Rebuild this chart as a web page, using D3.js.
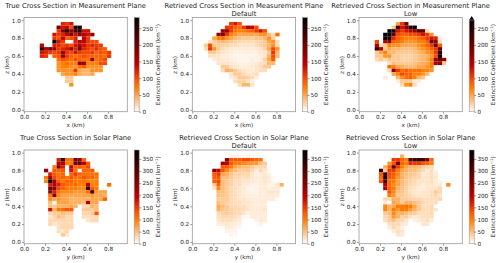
<!DOCTYPE html>
<html><head><meta charset="utf-8">
<script src="https://cdn.jsdelivr.net/npm/d3@7"></script>
<style>html,body{margin:0;background:#fff}svg{display:block}text{font-family:"DejaVu Sans";fill:#262626}</style>
</head><body><svg id="c" width="500" height="263"></svg>
<script>
// Each row: [first column index, values...]; rows run from z=0.96 downward in 0.04 km steps.
const trueMeasurement = [
[9,120,110,130],
[8,200,130,140,100,260,260],
[8,110,190,260,170,230,250,130,130],
[7,130,110,120,140,190,130,170,150,130,170],
[7,110,100,140,90,100,120,0,140,110],
[7,280,130,110,0,0,120,150,140,110,100,100],
[4,140,0,0,120,120,100,110,100,130,150,130,110,120,110,110],
[4,240,150,190,170,110,120,130,170,120,210,120,110,100,120,100,90],
[4,130,120,110,100,110,170,110,100,130,110,100,100,110,90,100,90,110],
[4,120,110,0,90,100,170,110,90,80,90,100,90,90,90,90,80,110],
[8,80,100,90,80,100,90,80,80,170,80,90,100],
[8,60,70,80,70,70,180,170,70,70,70,100,100],
[8,60,70,70,60,60,80,90,60,60,60,60],
[8,60,60,60,60,110,50,40,40,60,60,60],
[9,50,60,60,70,50,40,40,50],
[10,30,30],
[10,30,30],
[11,60]
];
const defaultMeasurement = [
[9,110,130,100],
[8,110,110,90,80,110,150,140,100],
[7,160,170,110,80,70,70,80,90,110,130,100],
[6,170,190,110,70,60,50,50,50,50,50,60,60,40,20,80],
[5,50,70,80,60,50,40,35,30,30,30,35,35,40,60,25],
[4,15,30,35,40,35,30,25,22,20,20,20,22,25,30,50,60,20],
[3,30,100,30,30,25,25,20,20,15,15,15,15,20,25,30,40,60,20],
[3,20,110,60,30,20,15,12,10,10,10,10,10,12,15,25,50,100,60],
[4,30,30,20,15,12,10,8,8,8,8,8,8,12,15,30,110,40],
[4,15,15,15,10,10,8,6,6,6,6,6,8,10,15,40,100,40],
[5,10,15,12,10,8,8,6,6,6,8,8,10,25,50,90],
[6,15,15,15,12,10,8,8,8,10,12,15,20,40,40],
[7,30,30,15,12,10,10,10,12,15,20,30,30],
[7,20,45,40,30,20,15,12,12,15,20,20],
[9,15,30,30,20,15,15,20],
[9,10,15,30,30,25,20,10],
[10,20,25,25,15,10],
[11,20,40,40,15]
];
const lowMeasurement = [
[9,50,110,190],
[8,30,240,130,180,260,285],
[7,285,260,130,110,130,140,170,220,200,20],
[6,285,290,200,100,90,90,100,100,110,130,110,60],
[6,290,260,120,90,80,70,70,70,80,90,110,130,120,10],
[4,100,0,150,180,90,80,70,60,60,60,70,70,90,200,170,20],
[4,150,20,30,70,60,60,50,50,50,50,60,70,90,110,200,90],
[4,250,150,30,50,40,40,35,35,35,40,50,60,70,90,110,200],
[4,30,50,70,40,40,30,30,30,30,35,40,45,60,70,110,250],
[4,30,30,60,60,30,30,25,25,25,30,35,40,45,60,100,270],
[4,20,30,20,35,30,30,25,25,25,30,35,40,50,70,170,200,170],
[7,20,35,30,30,30,30,35,40,45,50,70,150,170,30],
[7,80,70,50,45,40,40,40,50,50,60,70],
[7,20,170,110,80,90,80,80,80,70,70,60],
[8,50,70,100,90,90,70,70,60,40],
[6,10,0,0,40,60,80,90,70,40,30],
[9,10,30,30,30,10,10],
[8,2,0,20,60,70,20]
];
const trueSolar = [
[0],
[8,170,340,110,110,280,240,120],
[8,200,200,100,100,270,280,200,130],
[7,100,250,170,0,190,120,130,110,140],
[5,230,0,130,120,130,0,180,110,0,120,110,130],
[6,170,130,110,120,0,120,150,120,110,110,110,110],
[5,100,220,140,110,120,100,130,110,110,130,110,120,100],
[5,90,380,220,130,100,120,120,100,100,110,100,90,100],
[6,170,200,170,130,110,110,120,100,100,200,100,100,0,0,110],
[6,260,250,140,120,100,100,100,90,90,330,130,100],
[6,240,170,110,90,90,90,80,80,80,110,320,80,70,70],
[6,100,270,90,70,70,70,70,70,70,70,80,70,70,60],
[6,90,70,80,70,70,60,60,60,60,60,70,70,70,120],
[6,50,0,70,70,70,60,60,60,50,210,70,70],
[6,50,40,60,60,60,70,60,0,30,30,60,50],
[6,180,60,100,110,130,130,0,0,40,40,40,50],
[6,30,40,40,50,40,40,0,0,30,30,40,130],
[6,20,30,50,40,30,30,0,0,25,25,25,30],
[6,30,30,30,30,30,30,0,0,0,20,30,30],
[6,30,20,25,30,30,30],
[8,25,30,30,30],
[8,25,20,30],
[9,40,20]
];
const defaultSolar = [
[9,8,10,8,5,10,5],
[8,250,130,130,130,140,140,130,120,110],
[7,220,200,130,100,100,90,80,80,80,50,40],
[7,130,130,100,70,60,50,50,40,30,30,30],
[5,250,190,130,90,60,50,40,40,40,30,15,30,20,5],
[5,130,150,70,60,45,35,35,30,30,20,10,15,20,10],
[5,120,130,50,50,40,30,30,25,25,20,15,15,20,15],
[5,120,140,50,40,35,25,25,20,20,15,15,15,20,15,5],
[5,40,120,50,40,35,25,25,15,15,10,10,15,15,10,10,20,60],
[5,20,90,50,40,30,25,20,15,10,8,10,15,15,10,15,15],
[6,50,50,40,30,25,20,15,12,10,10,15,15,20,20,20],
[6,50,45,40,30,25,20,15,12,12,12,15,15,15,15,15],
[6,40,40,40,30,25,20,20,15,15,15,15,15,15,15],
[6,50,40,35,30,25,25,20,20,15,15,15,15],
[6,65,50,40,30,30,25,25,20,15,15,15,15],
[6,60,45,40,35,30,30,25,20,15,15,15,20],
[6,30,35,40,35,30,30,20,10,15,15,15,15],
[6,25,30,30,30,25,20,5,5,15,15,15,15],
[6,20,25,25,25,20,15,0,0,0,10,15,15],
[6,15,15,20,15,15,10,0,0,0,3,10],
[8,15,15,10,5],
[8,8,8,8],
[9,8,5],
[9,3]
];
const lowSolar = [
[8,8,0,60],
[8,150,150,120,100,300,330,330,330,260,120],
[7,80,130,270,120,100,160,150,150,130,120,100],
[6,60,120,300,150,100,70,60,60,50,40,35,30],
[5,340,40,150,150,100,70,60,50,50,40,30,15,25,10],
[5,130,340,140,130,90,60,50,45,40,30,15,20,25,15],
[5,120,360,130,120,80,60,45,40,35,30,20,20,25,20],
[5,130,320,110,100,70,50,40,35,30,20,20,20,25,15,8],
[6,210,110,90,70,50,40,30,25,20,15,20,20,15,15,0,90],
[6,210,120,100,60,45,35,25,20,15,15,20,20,20,30],
[7,130,90,50,45,35,25,20,15,20,20,25,40,30],
[7,100,80,40,40,35,30,20,20,20,20,25,30,20],
[6,30,30,60,60,40,40,35,30,30,25,25,25,25,30],
[6,15,0,70,60,40,60,60,50,40,30,25,25,25],
[6,90,60,70,100,100,110,100,70,40,25,25,30],
[6,90,60,100,80,100,100,80,60,40,30,25,30,20],
[6,40,50,90,60,60,50,40,40,25,25,25,30],
[6,30,40,80,60,35,40,20,15,20,25,25,25],
[6,25,40,50,30,30,20,0,10,15,20,25,15],
[7,25,30,30,20,15,0,0,0,20,20],
[7,15,30,20,10],
[8,15,25,20],
[9,20,15]
];
const panelData = [trueMeasurement, defaultMeasurement, lowMeasurement, trueSolar, defaultSolar, lowSolar];
const panelTitles = [
 ["True Cross Section in Measurement Plane"],
 ["Retrieved Cross Section in Measurement Plane","Default"],
 ["Retrieved Cross Section in Measurement Plane","Low"],
 ["True Cross Section in Solar Plane"],
 ["Retrieved Cross Section in Solar Plane","Default"],
 ["Retrieved Cross Section in Solar Plane","Low"]];
const xLabels = ["x (km)","x (km)","x (km)","y (km)","y (km)","y (km)"];
const axisTicks = [0,0.2,0.4,0.6,0.8];
const zTicks = [0,0.2,0.4,0.6,0.8,1.0];
const barTicksTop = [0,50,100,150,200,250];
const barTicksBottom = [0,50,100,150,200,250,300,350];
const vmaxTop = 282, vmaxBottom = 387;

const svg = d3.select("#c");
const lefts = [24, 192.3, 359];
const tops = [[17.5,111.7],[150,243.7]];
const W = 103.3;
const frame = "#9a9a9a", ink = "#333";
const heat = v => {            // reversed gist_heat
  const x = 1 - Math.min(1, Math.max(0, v));
  const c = t => Math.round(255*Math.min(1,Math.max(0,t)));
  return `rgb(${c(1.5*x)},${c(2*x-1)},${c(4*x-3)})`;
};
const defs = svg.append("defs");
const grad = defs.append("linearGradient").attr("id","g").attr("x1",0).attr("x2",0).attr("y1",1).attr("y2",0);
d3.range(0,1.001,0.02).forEach(t=>grad.append("stop").attr("offset",t).attr("stop-color",heat(t)));

panelData.forEach((rows,i)=>{
  const col=i%3, row=i<3?0:1, L=lefts[col], [T,B]=tops[row];
  const vmax=row?vmaxBottom:vmaxTop;
  const x=d3.scaleLinear().domain([0,0.983]).range([L,L+W]);
  const y=d3.scaleLinear().domain([-0.02,1.03]).range([B,T]);
  const g=svg.append("g");
  const cells=[];
  rows.forEach((r,j)=>r.slice(1).forEach((v,n)=>{ if(v>0) cells.push({k:r[0]+n,j,v}); }));
  g.selectAll("rect.cell").data(cells).join("rect").attr("class","cell")
    .attr("x",d=>x(0.04*d.k-0.01)).attr("width",x(0.04)-x(0)+0.05)
    .attr("y",d=>y(0.98-0.04*d.j)).attr("height",y(0)-y(0.04)+0.05)
    .attr("fill",d=>heat(d.v/vmax));
  const style=a=>{a.select(".domain").remove();a.selectAll("line").attr("stroke",ink).attr("stroke-width",0.5);a.selectAll("text").attr("font-size",5.65).attr("fill",ink);};
  svg.append("g").attr("transform",`translate(0,${B})`)
    .call(d3.axisBottom(x).tickValues(axisTicks).tickFormat(d3.format(".1f")).tickSize(2).tickPadding(1.2)).call(style);
  svg.append("g").attr("transform",`translate(${L},0)`)
    .call(d3.axisLeft(y).tickValues(zTicks).tickFormat(d3.format(".1f")).tickSize(2).tickPadding(1.2)).call(style);
  svg.append("rect").attr("x",L).attr("y",T).attr("width",W).attr("height",B-T).attr("fill","none").attr("stroke",frame).attr("stroke-width",0.8);
  svg.append("text").attr("x",L+W/2).attr("y",B+15).attr("text-anchor","middle").attr("font-size",5.65).text(xLabels[i]);
  svg.append("text").attr("transform",`translate(${L-15.5},${(T+B)/2+0.5}) rotate(-90)`).attr("text-anchor","middle").attr("font-size",5.65).text("z (km)");
  const t=panelTitles[i], cx=L+W/2;
  t.forEach((s,n)=>svg.append("text").attr("x",cx).attr("y",(row?140:8.2)+n*7.5).attr("text-anchor","middle").attr("font-size",6.8).text(s));
  // colourbar
  const bx=L+W+6.9, bw=5, extend=i===2;
  const bTop=extend?T+2.5:T;
  const c=d3.scaleLinear().domain([0,vmax]).range([B,T]);
  svg.append("rect").attr("x",bx).attr("y",bTop).attr("width",bw).attr("height",B-bTop).attr("fill","url(#g)");
  if(extend) svg.append("path").attr("d",`M${bx},${bTop}L${bx+bw/2},${T-1.5}L${bx+bw},${bTop}Z`).attr("fill","#000");
  svg.append("rect").attr("x",bx).attr("y",bTop).attr("width",bw).attr("height",B-bTop).attr("fill","none").attr("stroke",frame).attr("stroke-width",0.6);
  svg.append("g").attr("transform",`translate(${bx+bw},0)`)
    .call(d3.axisRight(c).tickValues(row?barTicksBottom:barTicksTop).tickSize(2).tickPadding(1.2)).call(style);
  const lab=svg.append("text").attr("transform",`translate(${bx+25.3},${(T+B)/2}) rotate(-90)`).attr("text-anchor","middle").attr("font-size",5.65);
  lab.append("tspan").text("Extinction Coefficient (km");
  lab.append("tspan").attr("font-size",4).attr("dy",-2).text("−1");
  lab.append("tspan").attr("dy",2).text(")");
});
</script></body></html>
